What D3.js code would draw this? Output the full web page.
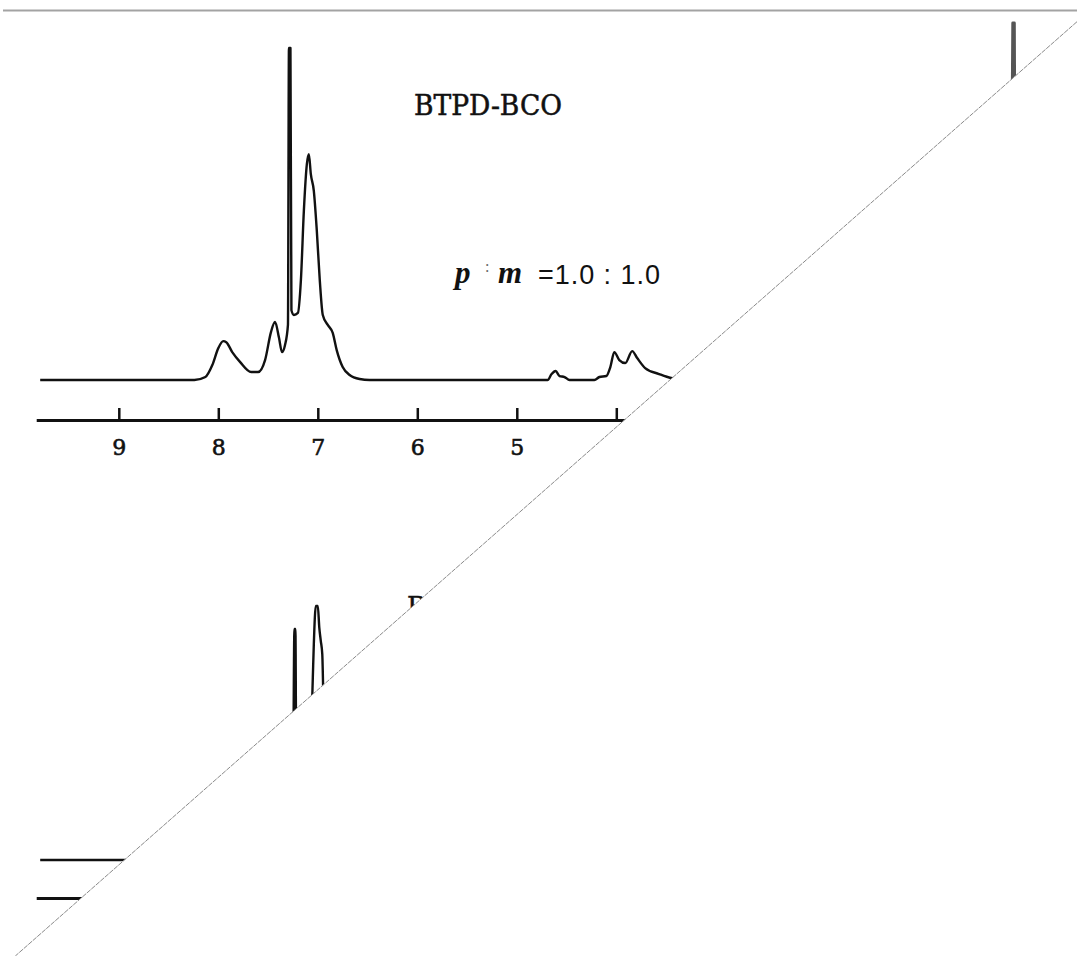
<!DOCTYPE html>
<html lang="en">
<head>
<meta charset="UTF-8">
<title>BTPD-BCO 1H NMR</title>
<script src="https://d3js.org/d3.v7.min.js"></script>
<style>
  body { margin: 0; background: #fff; }
  .trace { fill: none; stroke: #111; stroke-width: 2.4px; stroke-linejoin: round; }
  .axis path, .axis line { stroke: #111; }
  .axis text { font-family: "DejaVu Serif", serif; font-size: 22px; fill: #111; stroke: #111; stroke-width: 0.6px; }
</style>
</head>
<body>
<svg width="1077" height="956"></svg>
<script>
// chemical shift (ppm) and relative intensity, upper spectrum
const topPpm = [9.79, 8.24, 8.13, 8.06, 8.00, 7.95, 7.92, 7.86, 7.78, 7.67, 7.60, 7.53, 7.47, 7.43, 7.39, 7.36,
  7.33, 7.30, 7.29, 7.275, 7.265, 7.24, 7.20, 7.17, 7.14, 7.11, 7.09, 7.07, 7.04, 7.01, 6.98, 6.95, 6.90, 6.85,
  6.81, 6.75, 6.68, 6.58, 6.48, 4.69, 4.65, 4.61, 4.57, 4.52, 4.47, 4.22, 4.17, 4.10, 4.06, 4.02, 3.97, 3.91,
  3.84, 3.79, 3.71, 3.57, 3.45, 3.26];
const topInt = [0, 0, 0.9, 4.5, 9.6, 11.7, 11.4, 8.4, 5.4, 2.4, 2.4, 6.0, 14.5, 17.5, 12.7, 8.4,
  10.5, 16.6, 100, 100, 21, 19.6, 20.2, 30, 51, 65, 68, 62, 57, 45, 30, 19.6, 16.6, 14.2,
  9, 3.9, 1.5, 0.3, 0, 0, 1.8, 2.7, 1.2, 0.9, 0, 0, 0.9, 1.2, 3.9, 8.4, 6, 5.1,
  8.7, 6.6, 3.6, 1.8, 0.6, 0];
// reference peak near 0 ppm (drawn lighter)
const tmsPpm = [3.26, 0.04, 0.015, 0.0, -0.015, -0.5];
const tmsInt = [0, 0, 107.5, 107.5, 0, 0];

// lower spectrum (mostly hidden behind the cut)
const botPpm = [9.79, 8.2, 8.0, 7.9, 7.6, 7.45, 7.35, 7.25, 7.235, 7.225, 7.215, 7.10, 7.06, 7.05, 7.04,
  7.02, 7.00, 6.985, 6.97, 6.955, 6.945, 6.93, 6.90, 6.80, 6.60, 3.3];
const botInt = [0, 0, 8, 6, 3, 12, 6, 20, 69.6, 69.6, 20, 30, 45, 55, 65,
  76.5, 76.5, 70, 66, 62, 50, 30, 15, 5, 0, 0];

const tickPpm = [9, 8, 7, 6, 5, 4, 3, 2, 1, 0];
const title = "BTPD-BCO";

const svg = d3.select("svg"),
  width = +svg.attr("width"),
  height = +svg.attr("height");

const x = d3.scaleLinear().domain([10, 0]).range([19.3, 1014.3]);
const yTop = d3.scaleLinear().domain([0, 100]).range([380, 48]);
const yBot = d3.scaleLinear().domain([0, 100]).range([860, 528]);

// the picture is cut along a diagonal; everything below it is blank
const cutA = [1077, 21.7], cutB = [15.3, 956];
svg.append("clipPath").attr("id", "cut")
  .append("polygon")
  .attr("points", [[0, 0], [width, 0], cutA, cutB, [0, height]].map(p => p.join(",")).join(" "));

svg.append("line")
  .attr("x1", 3).attr("x2", width).attr("y1", 10.5).attr("y2", 10.5)
  .attr("stroke", "#a3a3a3").attr("stroke-width", 2);

const g = svg.append("g").attr("clip-path", "url(#cut)");

const line = yScale => d3.line().curve(d3.curveMonotoneX).x(d => x(d[0])).y(d => yScale(d[1]));

g.append("path").attr("class", "trace")
  .attr("d", line(yTop)(d3.zip(topPpm, topInt)));
g.append("path").attr("class", "trace")
  .attr("stroke", "#555").style("stroke", "#555").style("stroke-width", "3px")
  .attr("d", d3.line().x(d => x(d[0])).y(d => yTop(d[1]))(d3.zip(tmsPpm, tmsInt)));
g.append("path").attr("class", "trace")
  .attr("d", line(yBot)(d3.zip(botPpm, botInt)));

function drawAxis(y0) {
  const axScale = x.copy().domain([9.83, -0.6]).range([x(9.83), x(-0.6)]);
  const ax = g.append("g").attr("class", "axis")
    .attr("transform", `translate(0,${y0})`)
    .call(d3.axisBottom(axScale).tickValues(tickPpm).tickSizeInner(-12).tickSizeOuter(0).tickFormat(d3.format("d")));
  ax.select(".domain").attr("stroke-width", 3);
  ax.selectAll(".tick line").attr("stroke-width", 2.5);
  ax.selectAll(".tick text").attr("y", 35).attr("dy", 0);
}
drawAxis(420);
drawAxis(898);

[[414, 115], [407, 617]].forEach(([tx, ty]) => {
  g.append("text")
    .attr("x", tx).attr("y", ty)
    .attr("font-family", "DejaVu Serif, serif").attr("font-size", 27)
    .attr("stroke", "#111").attr("stroke-width", 0.5).attr("fill", "#111")
    .attr("textLength", 148).attr("lengthAdjust", "spacingAndGlyphs")
    .text(title);
});

// p : m ratio label
const ratio = g.append("g").attr("font-family", "Liberation Serif, serif").attr("fill", "#111");
ratio.append("text").attr("x", 455).attr("y", 283)
  .attr("font-size", 31).attr("font-weight", "bold").attr("font-style", "italic").text("p");
ratio.append("text").attr("x", 485).attr("y", 272)
  .attr("font-size", 16).attr("fill", "#666").text(":");
ratio.append("text").attr("x", 498).attr("y", 283)
  .attr("font-size", 31).attr("font-weight", "bold").attr("font-style", "italic").text("m");
ratio.append("text").attr("x", 538).attr("y", 284)
  .attr("font-family", "Liberation Sans, sans-serif").attr("font-size", 27)
  .attr("textLength", 122).attr("lengthAdjust", "spacing")
  .text("=1.0 : 1.0");

svg.append("line")
  .attr("x1", cutA[0]).attr("y1", cutA[1]).attr("x2", cutB[0]).attr("y2", cutB[1])
  .attr("stroke", "#8a8a8a").attr("stroke-width", 1).attr("stroke-dasharray", "5,1");
</script>
</body>
</html>
